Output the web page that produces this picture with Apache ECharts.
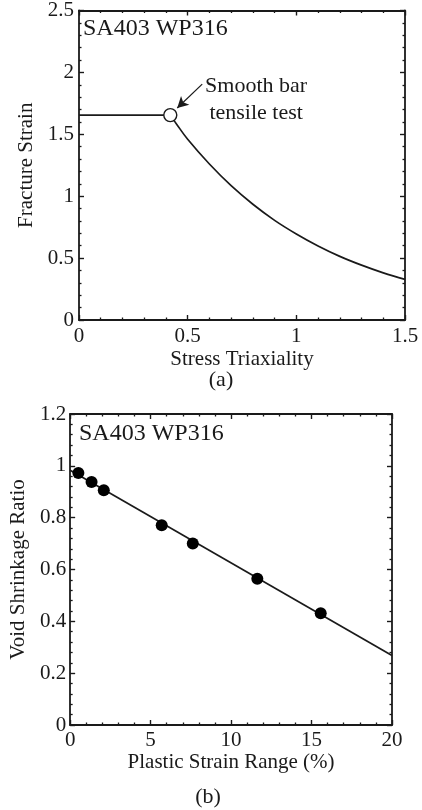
<!DOCTYPE html>
<html>
<head>
<meta charset="utf-8">
<script src="https://cdn.jsdelivr.net/npm/echarts@6/dist/echarts.min.js"></script>
<style>
html,body{margin:0;padding:0;background:#fff;}
#c{width:422px;height:810px;}
</style>
</head>
<body>
<div id="c"></div>
<script>
// ---- Panel (a): fracture strain vs stress triaxiality ----
const triaxFlat = [[0, 1.655], [0.42, 1.655]];
const triaxCurve = [[0.42, 1.655], [0.45, 1.58], [0.5, 1.46], [0.6, 1.26], [0.7, 1.085],
  [0.8, 0.935], [0.9, 0.805], [1.0, 0.695], [1.1, 0.598], [1.2, 0.514], [1.3, 0.443],
  [1.4, 0.381], [1.5, 0.328]];
const smoothBarTest = [[0.42, 1.655]];
const arrowFromTo = [[0.567, 1.905], [0.452, 1.712]];
const noteAnchor = [[0.815, 1.78]];
const noteText = 'Smooth bar\ntensile test';

// ---- Panel (b): void shrinkage ratio vs plastic strain range ----
const strainRange = [0.51, 1.33, 2.09, 5.69, 7.62, 11.63, 15.57];
const shrinkRatio = [0.972, 0.938, 0.906, 0.771, 0.700, 0.564, 0.431];
const fitLine = [[0, 0.983], [20, 0.268]];

const materialLabel = 'SA403 WP316';
const FONT = "'Liberation Serif', 'DejaVu Serif', serif";
const INK = '#1a1a1a';

function frameAxis(extra) {
  return Object.assign({
    axisLine: { show: true, onZero: false, lineStyle: { color: INK, width: 1.8 } },
    axisTick: { show: true, inside: true, length: 5, lineStyle: { color: INK, width: 1.4 } },
    minorTick: { show: true, splitNumber: 5, length: 2.5, lineStyle: { color: INK, width: 1.3 } },
    splitLine: { show: false },
    minorSplitLine: { show: false }
  }, extra);
}
const labelStyle = { color: INK, fontFamily: FONT, fontSize: 21 };
const nameStyle = { color: INK, fontFamily: FONT, fontSize: 21 };

const chart = echarts.init(document.getElementById('c'), null, { renderer: 'canvas' });
chart.setOption({
  backgroundColor: '#fff',
  animation: false,
  grid: [
    { left: 79, top: 9, width: 326, height: 311 },
    { left: 67, top: 414, width: 325, height: 311 }
  ],
  xAxis: [
    frameAxis({ gridIndex: 0, type: 'value', min: 0, max: 1.5, interval: 0.5, position: 'bottom',
      axisLabel: Object.assign({ margin: 6 }, labelStyle),
      name: 'Stress Triaxiality', nameLocation: 'middle', nameGap: 29, nameTextStyle: nameStyle }),
    frameAxis({ gridIndex: 0, type: 'value', min: 0, max: 1.5, interval: 0.5, position: 'top',
      axisLabel: { show: false } }),
    frameAxis({ gridIndex: 1, type: 'value', min: 0, max: 20, interval: 5, position: 'bottom',
      axisLabel: Object.assign({ margin: 5 }, labelStyle),
      name: 'Plastic Strain Range (%)', nameLocation: 'middle', nameGap: 26, nameTextStyle: nameStyle }),
    frameAxis({ gridIndex: 1, type: 'value', min: 0, max: 20, interval: 5, position: 'top',
      axisLabel: { show: false } })
  ],
  yAxis: [
    frameAxis({ gridIndex: 0, type: 'value', min: 0, max: 2.5, interval: 0.5, position: 'left',
      axisLabel: Object.assign({ margin: 5 }, labelStyle),
      name: 'Fracture Strain', nameLocation: 'middle', nameGap: 42, nameTextStyle: nameStyle }),
    frameAxis({ gridIndex: 0, type: 'value', min: 0, max: 2.5, interval: 0.5, position: 'right',
      axisLabel: { show: false } }),
    frameAxis({ gridIndex: 1, type: 'value', min: 0, max: 1.2, interval: 0.2, position: 'left',
      axisLabel: Object.assign({ margin: 4 }, labelStyle),
      name: 'Void Shrinkage Ratio', nameLocation: 'middle', nameGap: 40, nameTextStyle: nameStyle }),
    frameAxis({ gridIndex: 1, type: 'value', min: 0, max: 1.2, interval: 0.2, position: 'right',
      axisLabel: { show: false } })
  ],
  series: [
    { type: 'line', xAxisIndex: 0, yAxisIndex: 0, data: triaxFlat, showSymbol: false,
      lineStyle: { color: INK, width: 1.7 }, z: 2 },
    { type: 'line', xAxisIndex: 0, yAxisIndex: 0, data: triaxCurve, showSymbol: false, smooth: 0.4,
      lineStyle: { color: INK, width: 1.7 }, z: 2,
      markLine: { silent: true, symbol: ['none', 'arrow'], symbolSize: [9, 11],
        lineStyle: { color: INK, width: 1.2, type: 'solid', opacity: 1 }, label: { show: false },
        itemStyle: { color: INK },
        data: [[{ coord: arrowFromTo[0] }, { coord: arrowFromTo[1] }]] } },
    { type: 'scatter', xAxisIndex: 0, yAxisIndex: 0, data: smoothBarTest, symbol: 'circle', symbolSize: 13,
      itemStyle: { color: '#fff', borderColor: INK, borderWidth: 1.4, opacity: 1 }, z: 5 },
    { type: 'scatter', xAxisIndex: 0, yAxisIndex: 0, data: noteAnchor, symbolSize: 0,
      itemStyle: { opacity: 1 },
      label: { show: true, position: 'inside', formatter: noteText, color: INK, fontFamily: FONT,
        fontSize: 22, lineHeight: 27, align: 'center', verticalAlign: 'middle' }, z: 6 },
    { type: 'line', xAxisIndex: 2, yAxisIndex: 2, data: fitLine, showSymbol: false,
      lineStyle: { color: INK, width: 1.7 }, z: 2 },
    { type: 'scatter', xAxisIndex: 2, yAxisIndex: 2,
      data: strainRange.map((x, i) => [x, shrinkRatio[i]]), symbol: 'circle', symbolSize: 12,
      itemStyle: { color: '#000', opacity: 1 }, z: 5 }
  ],
  graphic: [
    { type: 'text', left: 83, top: 17, style: { text: materialLabel, fill: INK, font: '24px ' + FONT } },
    { type: 'text', left: 79, top: 422, style: { text: materialLabel, fill: INK, font: '24px ' + FONT } },
    { type: 'text', x: 221, y: 380, style: { text: '(a)', fill: INK, font: '22px ' + FONT, align: 'center', verticalAlign: 'middle' } },
    { type: 'text', x: 208, y: 797, style: { text: '(b)', fill: INK, font: '22px ' + FONT, align: 'center', verticalAlign: 'middle' } }
  ]
});
</script>
</body>
</html>
